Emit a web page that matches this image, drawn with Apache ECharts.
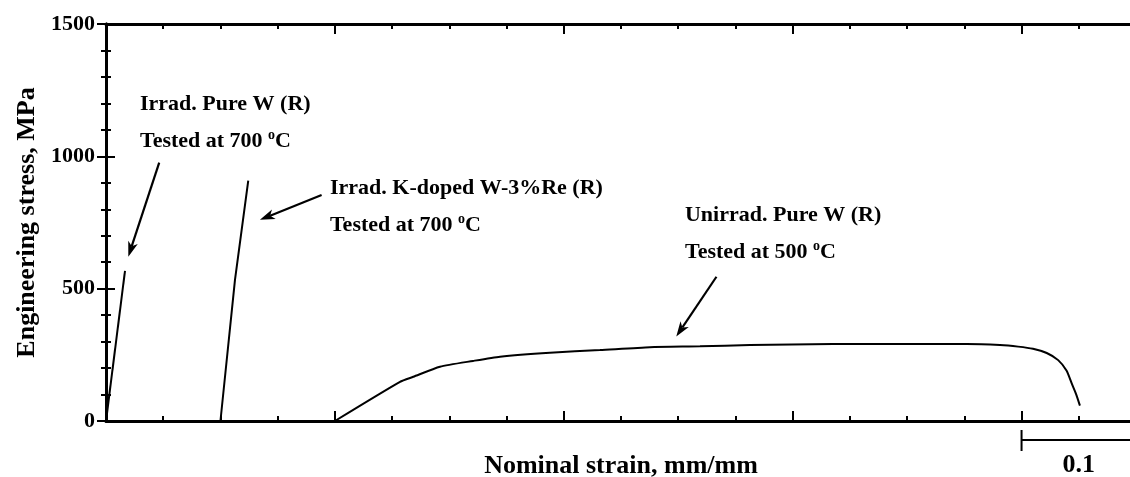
<!DOCTYPE html>
<html><head><meta charset="utf-8">
<script src="https://cdn.jsdelivr.net/npm/echarts@6/dist/echarts.min.js"></script>
<style>html,body{margin:0;padding:0;background:#fff}#c{width:1130px;height:477px}</style>
</head><body><div id="c"></div>
<script>
const FONT = '"Liberation Serif","Times New Roman",serif';

// ---- data: nominal strain (mm/mm) and engineering stress (MPa) ----
const irradPureWStrain = [0, 0.0166];
const irradPureWStress = [0, 567];
const irradKDopedStrain = [0.1, 0.1127, 0.1243];
const irradKDopedStress = [0, 533, 908];
const unirradPureWStrain = [0.2, 0.2569, 0.2685, 0.2918, 0.3207, 0.3443, 0.3879, 0.4316, 0.4753, 0.519, 0.5627, 0.6352, 0.6938, 0.752, 0.7811, 0.797, 0.81, 0.822, 0.832, 0.8394, 0.844, 0.8478, 0.851];
const unirradPureWStress = [0, 148, 167, 205, 227, 243, 258, 268, 279, 282, 287, 291, 291, 291, 287, 281, 273, 257, 230, 190, 140, 100, 58];

const yAxisName = 'Engineering stress, MPa';
const xAxisName = 'Nominal strain, mm/mm';
const scaleBarLabel = '0.1';
const scaleBarStrain = [0.8, 0.9];

const annotationLines = [
  ['Irrad. Pure W (R)', 'Tested at 700 {sup|o}C'],
  ['Irrad. K-doped W-3%Re (R)', 'Tested at 700 {sup|o}C'],
  ['Unirrad. Pure W (R)', 'Tested at 500 {sup|o}C']
];

// ---- layout of annotations (data coordinates) ----
const annotationAnchors = [[0.0297, 1198], [0.1957, 880], [0.5059, 778]];
const arrowTails = [[0.0465, 976], [0.1884, 854], [0.5334, 545]];
const arrowTips = [[0.0195, 621], [0.1345, 760], [0.4983, 319]];

function zip(a, b) { return a.map((v, i) => [v, b[i]]); }

const lineStyleAxis = { color: '#000', width: 3 };
const tickStyle = { color: '#000', width: 2 };
const boldText = { fontFamily: FONT, fontWeight: 'bold', color: '#000' };

const xBase = { type: 'value', min: 0, max: 0.9, axisLabel: { show: false }, splitLine: { show: false } };

const chart = echarts.init(document.getElementById('c'), null, { renderer: 'canvas' });

const option = {
  backgroundColor: '#fff',
  animation: false,
  grid: { left: 106, top: 24, right: -6, bottom: 56, containLabel: false, outerBoundsMode: 'none' },
  xAxis: [
    Object.assign({}, xBase, {
      position: 'bottom', interval: 0.05,
      axisLine: { show: true, lineStyle: lineStyleAxis },
      axisTick: { show: true, inside: true, length: 5, lineStyle: tickStyle },
      name: xAxisName, nameLocation: 'middle', nameGap: 32,
      nameTextStyle: Object.assign({ fontSize: 26 }, boldText)
    }),
    Object.assign({}, xBase, {
      position: 'bottom', interval: 0.2,
      axisLine: { show: false },
      axisTick: { show: true, inside: true, length: 10, lineStyle: tickStyle }
    }),
    Object.assign({}, xBase, {
      position: 'top', interval: 0.05,
      axisLine: { show: true, lineStyle: lineStyleAxis },
      axisTick: { show: true, inside: true, length: 5, lineStyle: tickStyle }
    }),
    Object.assign({}, xBase, {
      position: 'top', interval: 0.2,
      axisLine: { show: false },
      axisTick: { show: true, inside: true, length: 10, lineStyle: tickStyle }
    })
  ],
  yAxis: [
    {
      type: 'value', min: 0, max: 1500, interval: 500, position: 'left',
      axisLine: { show: true, lineStyle: lineStyleAxis },
      axisTick: { show: true, inside: true, length: 9, lineStyle: tickStyle },
      minorTick: { show: true, splitNumber: 5, length: 5, lineStyle: tickStyle },
      axisLabel: Object.assign({ fontSize: 22, margin: 11, formatter: function (v) { return String(v); } }, boldText),
      splitLine: { show: false },
      name: yAxisName, nameLocation: 'middle', nameGap: 58,
      nameTextStyle: Object.assign({ fontSize: 26 }, boldText)
    },
    {
      type: 'value', min: 0, max: 1500, interval: 500, position: 'right',
      axisLine: { show: true, lineStyle: lineStyleAxis },
      axisTick: { show: true, inside: true, length: 9, lineStyle: tickStyle },
      minorTick: { show: true, splitNumber: 5, length: 5, lineStyle: tickStyle },
      axisLabel: { show: false },
      splitLine: { show: false }
    }
  ],
  series: [
    { type: 'line', name: 'Irrad. Pure W', data: zip(irradPureWStrain, irradPureWStress), showSymbol: false, symbol: 'none', lineStyle: { color: '#000', width: 2 }, silent: true },
    { type: 'line', name: 'Irrad. K-doped W-3%Re', data: zip(irradKDopedStrain, irradKDopedStress), showSymbol: false, symbol: 'none', lineStyle: { color: '#000', width: 2 }, silent: true },
    { type: 'line', name: 'Unirrad. Pure W', data: zip(unirradPureWStrain, unirradPureWStress), showSymbol: false, symbol: 'none', smooth: 0.2, lineStyle: { color: '#000', width: 2 }, silent: true },
    {
      type: 'custom', name: 'arrows', silent: true, clip: false,
      data: arrowTails.map((t, i) => [t[0], t[1], arrowTips[i][0], arrowTips[i][1]]),
      encode: { x: [0, 2], y: [1, 3] },
      renderItem: function (params, api) {
        const p0 = api.coord([api.value(0), api.value(1)]);
        const p1 = api.coord([api.value(2), api.value(3)]);
        const dx = p1[0] - p0[0], dy = p1[1] - p0[1];
        const len = Math.sqrt(dx * dx + dy * dy);
        const ux = dx / len, uy = dy / len;
        const nx = -uy, ny = ux;
        const L = 15, W = 5, N = 11;
        const base = [p1[0] - ux * L, p1[1] - uy * L];
        const notch = [p1[0] - ux * N, p1[1] - uy * N];
        return {
          type: 'group',
          children: [
            { type: 'line', shape: { x1: p0[0], y1: p0[1], x2: notch[0], y2: notch[1] }, style: { stroke: '#000', lineWidth: 2.2 } },
            { type: 'polygon', shape: { points: [p1, [base[0] + nx * W, base[1] + ny * W], notch, [base[0] - nx * W, base[1] - ny * W]] }, style: { fill: '#000' } }
          ]
        };
      }
    },
    {
      type: 'custom', name: 'annotations', silent: true, clip: false,
      data: annotationAnchors.map((a, i) => [a[0], a[1], i]),
      encode: { x: 0, y: 1 },
      renderItem: function (params, api) {
        const p = api.coord([api.value(0), api.value(1)]);
        const lines = annotationLines[api.value(2)];
        const rich = { sup: { fontFamily: FONT, fontWeight: 'bold', fontSize: 14, fill: '#000', verticalAlign: 'top', lineHeight: 26, padding: [0, 0, 10, 0] } };
        return {
          type: 'group',
          children: lines.map((s, k) => ({
            type: 'text',
            x: p[0], y: p[1] + k * 37,
            style: { text: s, fontFamily: FONT, fontWeight: 'bold', fontSize: 22, fill: '#000', align: 'left', verticalAlign: 'middle', rich: rich }
          }))
        };
      }
    },
    {
      type: 'custom', name: 'scale bar', silent: true, clip: false,
      data: [[scaleBarStrain[0], 0, scaleBarStrain[1], 0]],
      encode: { x: [0, 2], y: [1, 3] },
      renderItem: function (params, api) {
        const a = api.coord([api.value(0), api.value(1)]);
        const b = api.coord([api.value(2), api.value(3)]);
        const y = a[1] + 19;
        return {
          type: 'group',
          children: [
            { type: 'line', shape: { x1: a[0], y1: y, x2: b[0], y2: y }, style: { stroke: '#000', lineWidth: 2 } },
            { type: 'line', shape: { x1: a[0], y1: y - 10, x2: a[0], y2: y + 11 }, style: { stroke: '#000', lineWidth: 2 } },
            { type: 'text', x: (a[0] + b[0]) / 2, y: a[1] + 44, style: { text: scaleBarLabel, fontFamily: FONT, fontWeight: 'bold', fontSize: 26, fill: '#000', align: 'center', verticalAlign: 'middle' } }
          ]
        };
      }
    }
  ]
};
chart.setOption(option);
</script>
</body></html>
